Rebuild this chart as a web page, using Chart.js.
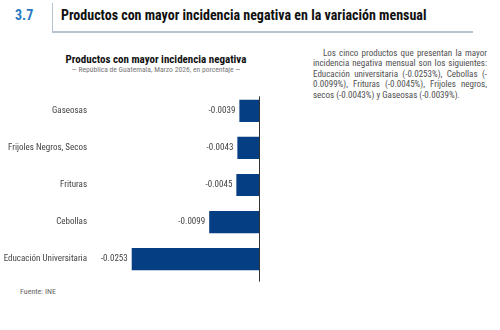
<!DOCTYPE html>
<html>
<head>
<meta charset="utf-8">
<script src="https://cdn.jsdelivr.net/npm/chart.js@4"></script>
<style>
  html, body { margin: 0; padding: 0; background: #fff; }
  body { width: 500px; height: 330px; position: relative; overflow: hidden;
         font-family: "Roboto Condensed", "DejaVu Sans Condensed", sans-serif; }
  #num { position: absolute; left: 15px; top: 7px; font-size: 14px; font-weight: bold; color: #2a78c2; }
  #sep { position: absolute; left: 52px; top: 3px; width: 1px; height: 29px; background: #b6c4d2; }
  #rule { position: absolute; left: 52px; top: 31px; width: 421px; height: 2px; background: #b6c4d2; }
  #head { position: absolute; left: 61px; top: 7px; font-size: 14px; font-weight: bold; color: #111; }
  #chartTitle { position: absolute; left: 0; width: 312px; top: 53px; text-align: center;
                font-size: 11px; font-weight: bold; color: #111; }
  #chartSub { position: absolute; left: 0; width: 312px; top: 65px; text-align: center;
              font-size: 7.6px; color: #777; }
  #chartBox { position: absolute; left: 0; top: 84px; width: 262px; height: 202px; }
  #note { position: absolute; left: 313px; top: 48px; width: 174px; font-size: 9px;
          line-height: 10.4px; color: #505050; }
  #note span { display: block; white-space: nowrap; text-align: justify; text-align-last: justify; }
  #note span.first { padding-left: 10px; }
  #note span.last { text-align-last: left; }
  #src { position: absolute; left: 20px; top: 287px; font-size: 8px; color: #666; }
</style>
</head>
<body>
<div id="num">3.7</div>
<div id="sep"></div>
<div id="rule"></div>
<div id="head">Productos con mayor incidencia negativa en la variación mensual</div>
<div id="chartTitle">Productos con mayor incidencia negativa</div>
<div id="chartSub">— República de Guatemala, Marzo 2026, en porcentaje —</div>
<div id="chartBox"><canvas id="chartDisplay"></canvas></div>
<div id="note">
  <span class="first">Los cinco productos que presentan la mayor</span>
  <span>incidencia negativa mensual son los siguientes:</span>
  <span>Educación universitaria (-0.0253%), Cebollas (-</span>
  <span>0.0099%), Frituras (-0.0045%), Frijoles negros,</span>
  <span class="last">secos (-0.0043%) y Gaseosas (-0.0039%).</span>
</div>
<div id="src">Fuente: INE</div>
<script>
const FONT = '"Roboto Condensed", "DejaVu Sans Condensed", sans-serif';

// products and their negative incidence (percentage points)
const productos = ['Gaseosas', 'Frijoles Negros, Secos', 'Frituras', 'Cebollas', 'Educación Universitaria'];
const incidencias = [-0.0039, -0.0043, -0.0045, -0.0099, -0.0253];

// value printed just left of each bar
const valueLabels = {
  id: 'valueLabels',
  afterDatasetsDraw(chart) {
    const ctx = chart.ctx;
    const meta = chart.getDatasetMeta(0);
    ctx.save();
    ctx.font = '9px ' + FONT;
    ctx.fillStyle = '#444';
    ctx.textAlign = 'right';
    ctx.textBaseline = 'middle';
    meta.data.forEach((bar, i) => {
      ctx.fillText(incidencias[i].toFixed(4), bar.x - 4, bar.y);
    });
    ctx.restore();
  }
};

// vertical line at zero
const zeroLine = {
  id: 'zeroLine',
  afterDatasetsDraw(chart) {
    const ctx = chart.ctx;
    const x = Math.round(chart.scales.x.getPixelForValue(0)) + 0.5;
    ctx.save();
    ctx.strokeStyle = '#333';
    ctx.lineWidth = 1;
    ctx.beginPath();
    ctx.moveTo(x, chart.chartArea.top + 4);
    ctx.lineTo(x, chart.chartArea.bottom + 4);
    ctx.stroke();
    ctx.restore();
  }
};

let chart = new Chart(document.getElementById('chartDisplay'), {
  type: 'bar',
  data: {
    labels: productos,
    datasets: [{
      data: incidencias,
      backgroundColor: '#063e84',
      barPercentage: 0.6,
      categoryPercentage: 1
    }]
  },
  options: {
    indexAxis: 'y',
    responsive: true,
    maintainAspectRatio: false,
    animation: false,
    layout: { padding: { left: 0, right: 3, top: 0, bottom: 8 } },
    plugins: {
      legend: { display: false },
      tooltip: { enabled: false }
    },
    scales: {
      x: {
        display: false,
        min: -0.032,
        max: 0
      },
      y: {
        grid: { display: false },
        border: { display: false },
        afterFit(scale) { scale.width = 98; },
        ticks: { color: '#444', padding: 3, font: { family: FONT, size: 9 } }
      }
    }
  },
  plugins: [valueLabels, zeroLine]
});
</script>
</body>
</html>
